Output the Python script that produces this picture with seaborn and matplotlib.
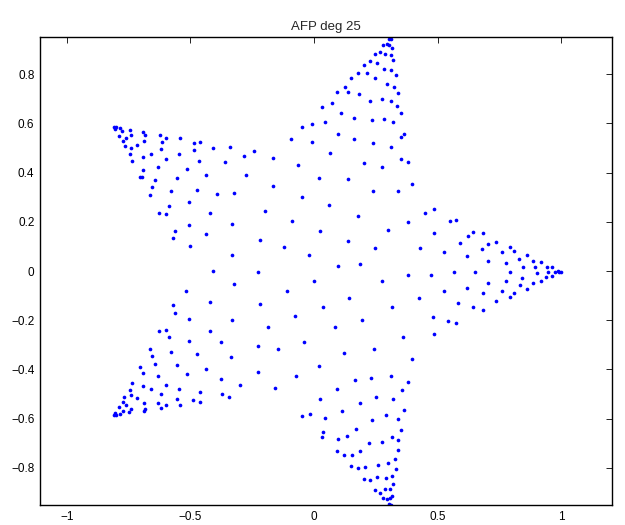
import matplotlib
matplotlib.use("Agg")
import matplotlib.pyplot as plt
import seaborn as sns
import pandas as pd

# ---- point values (by region of the star) ----
upper_left_x = [-0.810,-0.802,-0.806,-0.785,-0.776,-0.746,-0.691,-0.684,-0.741,-0.789,
                -0.761,-0.772,-0.687,-0.622,-0.598,-0.615,-0.543,-0.487,-0.460,-0.341,
                -0.409,-0.487,-0.547,-0.767,-0.740,-0.717,-0.746,-0.691,-0.659,-0.618,
                -0.598,-0.736,-0.466,-0.359,-0.630,-0.516,-0.694,-0.703,-0.696,-0.642,
                -0.556,-0.436,-0.657,-0.579,-0.472,-0.664,-0.394,-0.505,-0.587,-0.626,
                -0.599,-0.422,-0.507,-0.564,-0.437,-0.572,-0.502]
upper_left_y = [0.586,0.584,0.577,0.581,0.568,0.574,0.565,0.554,0.555,0.550,
                0.541,0.527,0.530,0.553,0.539,0.526,0.541,0.520,0.526,0.505,
                0.500,0.492,0.474,0.507,0.499,0.512,0.477,0.462,0.474,0.496,
                0.457,0.449,0.449,0.443,0.422,0.414,0.409,0.382,0.382,0.369,
                0.377,0.392,0.342,0.326,0.331,0.309,0.312,0.281,0.264,0.236,
                0.232,0.235,0.188,0.164,0.150,0.134,0.101]

upper_mid_x = [0.109,-0.047,-0.007,0.045,0.099,-0.092,-0.007,0.066,-0.285,-0.243,
               -0.166,-0.065,-0.275,0.022,0.139,-0.165,-0.323,-0.049,0.061,-0.200,
               -0.331,-0.089,0.023,0.136,-0.220,-0.120]
upper_mid_y = [0.642,0.584,0.597,0.604,0.557,0.536,0.523,0.481,0.469,0.488,
               0.458,0.431,0.391,0.378,0.373,0.345,0.319,0.299,0.268,0.246,
               0.192,0.203,0.161,0.124,0.127,0.096]

top_x = [0.309,0.302,0.310,0.281,0.294,0.305,0.314,0.267,0.246,0.289,
         0.310,0.321,0.227,0.256,0.201,0.283,0.313,0.331,0.179,0.215,
         0.148,0.248,0.297,0.325,0.126,0.092,0.138,0.184,0.341,0.228,
         0.277,0.313,0.074,0.337,0.034,0.354,0.163,0.236,0.285,0.320,
         0.366,0.354,0.162,0.239,0.312,0.352]
top_y = [0.951,0.942,0.942,0.919,0.922,0.918,0.908,0.892,0.884,0.881,
         0.878,0.859,0.853,0.847,0.838,0.820,0.816,0.796,0.804,0.804,
         0.784,0.784,0.761,0.747,0.747,0.726,0.727,0.718,0.722,0.691,
         0.699,0.691,0.681,0.672,0.666,0.641,0.624,0.614,0.616,0.607,
         0.558,0.546,0.536,0.522,0.503,0.455]

right_inner_x = [0.204,0.382,0.275,0.395,0.240,0.340,0.178,0.449,0.484,0.382,
                 0.552,0.575,0.301,0.486,0.247,0.430,0.528]
right_inner_y = [0.441,0.443,0.422,0.354,0.326,0.327,0.223,0.236,0.251,0.199,
                 0.203,0.207,0.168,0.155,0.092,0.092,0.077]

right_arm_x = [0.645,0.683,0.625,0.591,0.704,0.738,0.794,0.808,0.679,0.762,
               0.861,0.618,0.829,0.885,0.918,0.706,0.776,0.846,0.896,0.941,
               0.962,0.652,0.795,0.904,0.946,0.976,0.989,0.992,1.000,0.937,
               0.962,0.843,0.706,0.776,0.887,0.918,0.835,0.861,0.618,0.762,
               0.808,0.682,0.794,0.738,0.642,0.683]
right_arm_y = [0.159,0.154,0.141,0.115,0.112,0.118,0.099,0.082,0.089,0.076,
               0.066,0.061,0.050,0.042,0.038,0.041,0.034,0.016,0.018,0.016,
               0.015,-0.003,-0.004,-0.007,-0.003,-0.003,0.001,-0.005,-0.003,-0.023,
               -0.022,-0.027,-0.047,-0.039,-0.049,-0.042,-0.058,-0.072,-0.068,-0.081,
               -0.088,-0.091,-0.104,-0.123,-0.145,-0.157]

lower_right_x = [0.188,0.277,0.382,0.475,0.567,0.316,0.424,0.528,0.584,0.193,
                 0.480,0.544,0.575,0.359,0.484,0.242,0.395,0.167,0.232,0.313]
lower_right_y = [0.027,-0.041,-0.018,-0.015,-0.005,-0.145,-0.111,-0.082,-0.131,-0.200,
                 -0.188,-0.205,-0.212,-0.270,-0.257,-0.315,-0.359,-0.441,-0.434,-0.426]

center_x = [-0.332,-0.019,0.099,-0.228,-0.323,-0.001,-0.108,0.143,-0.220,0.035,
            -0.331,-0.077,-0.186,0.085,-0.378,-0.227,-0.147,-0.040,-0.335,0.121,
            0.022,-0.227,-0.378,-0.074,-0.298,-0.159,0.094]
center_y = [0.066,0.066,0.019,-0.003,-0.051,-0.039,-0.080,-0.109,-0.132,-0.145,
            -0.199,-0.184,-0.226,-0.226,-0.289,-0.303,-0.318,-0.288,-0.350,-0.335,
            -0.384,-0.411,-0.439,-0.427,-0.465,-0.474,-0.480]

lower_left_x = [-0.409,-0.518,-0.422,-0.571,-0.564,-0.507,-0.626,-0.599,-0.587,-0.422,
                -0.506,-0.664,-0.657,-0.579,-0.472,-0.642,-0.703,-0.556,-0.694,-0.436,
                -0.630,-0.516,-0.737,-0.746,-0.691,-0.659,-0.598,-0.548,-0.463,-0.768,
                -0.740,-0.717,-0.618,-0.371,-0.344,-0.772,-0.761,-0.789,-0.741,-0.687,
                -0.683,-0.633,-0.621,-0.598,-0.543,-0.555,-0.489,-0.460]
lower_left_y = [-0.001,-0.082,-0.127,-0.139,-0.169,-0.193,-0.242,-0.238,-0.269,-0.242,
                -0.285,-0.315,-0.347,-0.331,-0.336,-0.376,-0.388,-0.382,-0.416,-0.397,
                -0.427,-0.419,-0.454,-0.482,-0.468,-0.480,-0.464,-0.480,-0.493,-0.511,
                -0.504,-0.516,-0.501,-0.499,-0.511,-0.532,-0.546,-0.554,-0.561,-0.535,
                -0.561,-0.535,-0.558,-0.546,-0.546,-0.522,-0.526,-0.531]

lower_left_tip_x = [-0.808,-0.800,-0.804,-0.784,-0.774,-0.747,-0.690]
lower_left_tip_y = [-0.587,-0.584,-0.577,-0.580,-0.568,-0.574,-0.568]

bottom_x = [0.382,0.358,0.023,0.250,0.321,0.185,-0.047,-0.016,0.045,0.115,
            0.290,0.366,0.341,0.235,0.170,0.354,0.035,0.034,0.099,0.134,
            0.223,0.274,0.317,0.339,0.341,0.092,0.123,0.154,0.188,0.328,
            0.148,0.178,0.208,0.260,0.301,0.331,0.201,0.228,0.255,0.293,
            0.317,0.321,0.246,0.266,0.286,0.309,0.281,0.296,0.308,0.314,
            0.304,0.310,0.309]
bottom_y = [-0.449,-0.485,-0.522,-0.512,-0.520,-0.535,-0.588,-0.581,-0.596,-0.568,
            -0.586,-0.564,-0.600,-0.607,-0.642,-0.647,-0.655,-0.673,-0.684,-0.670,
            -0.699,-0.693,-0.676,-0.685,-0.727,-0.731,-0.749,-0.749,-0.732,-0.762,
            -0.791,-0.801,-0.796,-0.788,-0.782,-0.803,-0.845,-0.849,-0.836,-0.842,
            -0.831,-0.866,-0.891,-0.900,-0.886,-0.885,-0.924,-0.927,-0.924,-0.914,
            -0.946,-0.950,-0.954]

title_text = "AFP deg 25"
xticks = [-1, -0.5, 0, 0.5, 1]
yticks = [-0.8, -0.6, -0.4, -0.2, 0, 0.2, 0.4, 0.6, 0.8]

xs = (upper_left_x + upper_mid_x + top_x + right_inner_x + right_arm_x +
      lower_right_x + center_x + lower_left_x + lower_left_tip_x + bottom_x)
ys = (upper_left_y + upper_mid_y + top_y + right_inner_y + right_arm_y +
      lower_right_y + center_y + lower_left_y + lower_left_tip_y + bottom_y)
df = pd.DataFrame({"x": xs, "y": ys})

sns.set_style("white")
plt.rcParams["font.family"] = ["Liberation Sans", "DejaVu Sans"]

fig = plt.figure(figsize=(6.25, 5.25), dpi=100)
ax = fig.add_axes([0.064, 0.038, 0.9152, 0.8914])
sns.scatterplot(data=df, x="x", y="y", ax=ax, color="#0000ff", s=7,
                linewidth=0, marker="o", legend=False)

ax.set_xlim(-1.109, 1.206)
ax.set_ylim(-0.951, 0.951)
ax.set_xticks(xticks)
ax.set_xticklabels(["\u22121", "\u22120.5", "0", "0.5", "1"])
ax.set_yticks(yticks)
ax.set_yticklabels(["\u22120.8", "\u22120.6", "\u22120.4", "\u22120.2", "0",
                    "0.2", "0.4", "0.6", "0.8"])
ax.set_xlabel("")
ax.set_ylabel("")
ax.tick_params(direction="in", length=4, width=0.6, top=True, right=True,
               labelsize=8.5, colors="black", pad=4)
for sp in ax.spines.values():
    sp.set_visible(True)
    sp.set_color("black")
    sp.set_linewidth(1.0)
ax.set_title(title_text, fontsize=9.5, pad=5)

fig.savefig("out.png", dpi=100)
